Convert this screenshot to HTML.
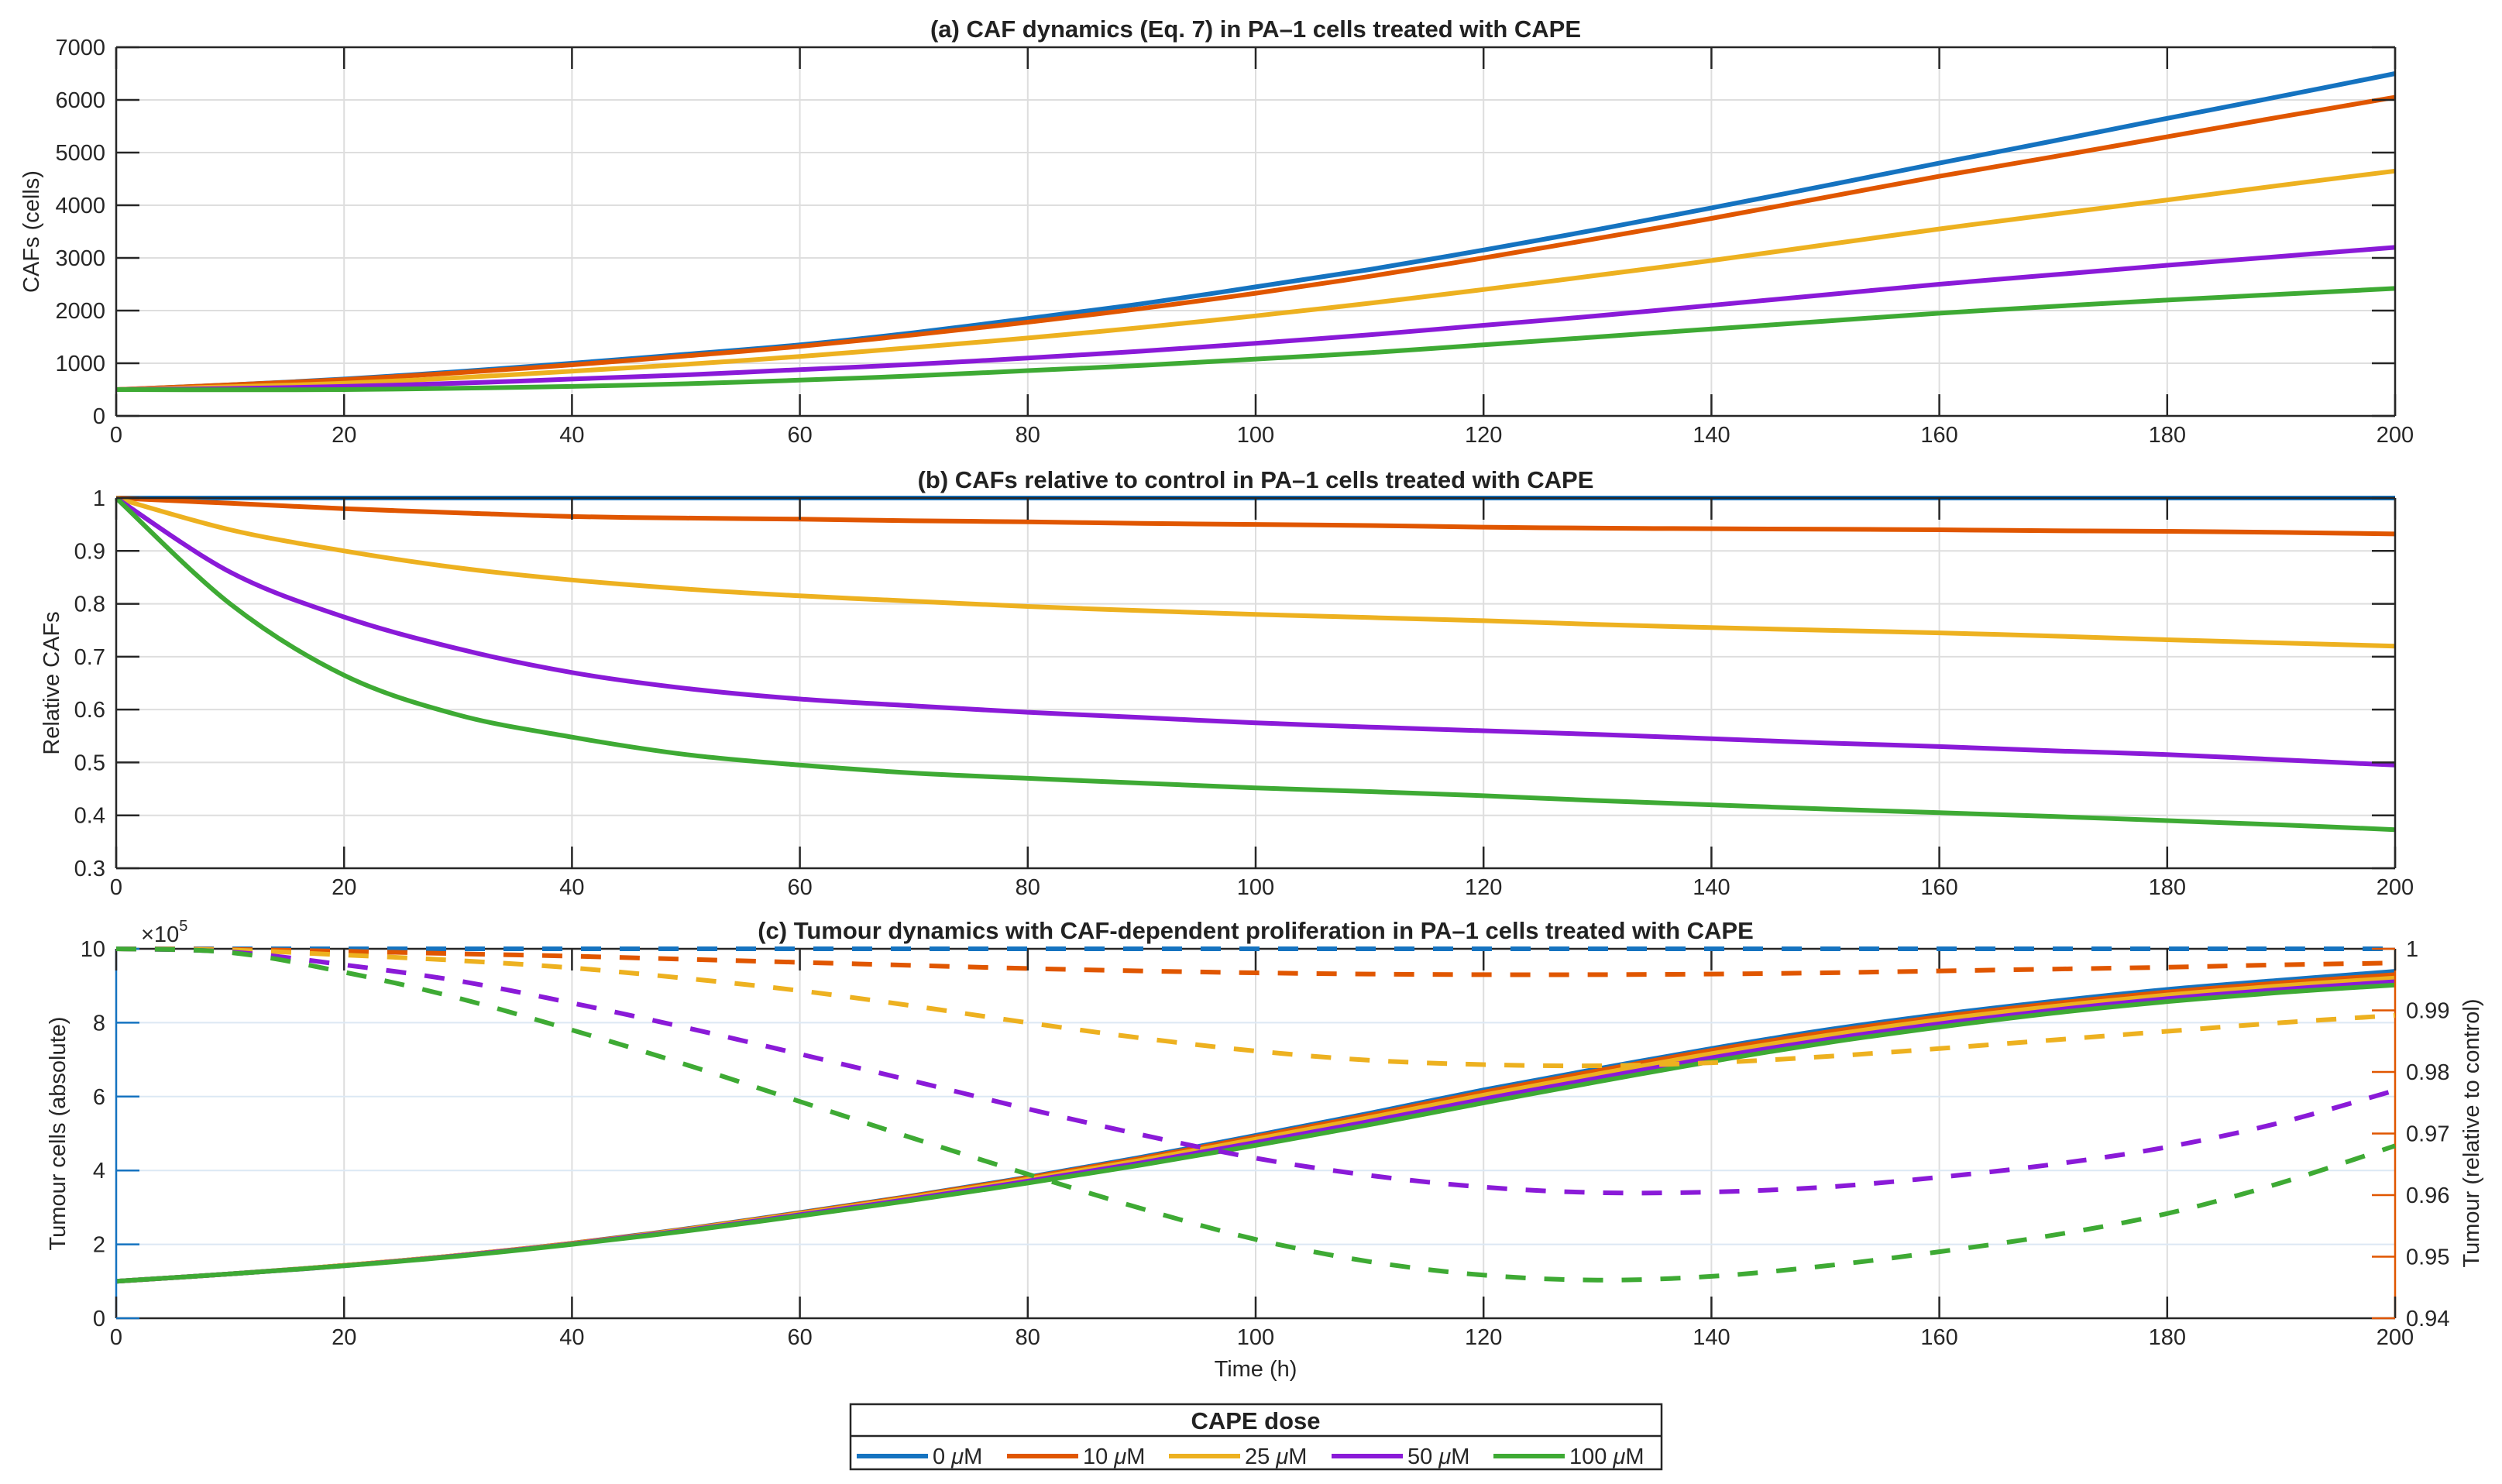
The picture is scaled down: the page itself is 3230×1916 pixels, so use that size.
<!DOCTYPE html>
<html><head><meta charset="utf-8"><style>
html,body{margin:0;padding:0;background:#fff;}
svg{display:block;font-family:"Liberation Sans",Arial,sans-serif;}
.tk{font-size:29px;fill:#262626;}
.tt{font-family:"Liberation Sans Narrow","Liberation Sans",sans-serif;font-weight:bold;font-size:31px;fill:#222;}
</style></head><body>
<svg id="fig" width="3230" height="1916" viewBox="0 0 3230 1916" xmlns="http://www.w3.org/2000/svg"></svg>
<script>
// ---- data ----
const tVals = [0,10,20,30,40,50,60,70,80,90,100,110,120,130,140,150,160,170,180,190,200];
const doseLabels = ["0 μM","10 μM","25 μM","50 μM","100 μM"];
const colors = ["#1573C0","#E05600","#EDB120","#8A1AD8","#3EAA34"];
// (a) CAFs absolute
const cafA0 = [500,590,700,840,1000,1170,1350,1580,1850,2130,2450,2780,3150,3540,3950,4370,4800,5220,5650,6070,6500];
const cafA10 = [500,590,690,820,970,1140,1320,1540,1780,2040,2330,2650,3000,3370,3750,4150,4550,4920,5300,5680,6050];
const cafA25 = [500,555,620,725,850,980,1130,1300,1480,1680,1900,2140,2400,2670,2950,3250,3550,3830,4100,4380,4650];
const cafA50 = [500,520,560,620,700,780,880,980,1100,1230,1380,1540,1720,1900,2100,2300,2500,2680,2860,3030,3200];
const cafA100 = [500,495,500,525,560,610,680,760,860,960,1080,1200,1350,1500,1650,1800,1950,2080,2200,2310,2420];
// (b) relative CAFs
const relB0 = [1,1,1,1,1,1,1,1,1,1,1,1,1,1,1,1,1,1,1,1,1];
const relB10 = [1,.99,.98,.972,.965,.962,.96,.957,.955,.952,.95,.948,.945,.943,.942,.941,.94,.938,.937,.935,.932];
const relB25 = [1,.94,.90,.868,.845,.828,.815,.805,.795,.787,.78,.774,.768,.761,.755,.75,.745,.739,.732,.726,.72];
const relB50 = [1,.86,.775,.715,.67,.64,.62,.607,.595,.585,.575,.567,.56,.553,.545,.537,.53,.522,.515,.505,.495];
const relB100 = [1,.80,.665,.59,.548,.515,.495,.48,.47,.461,.452,.445,.437,.428,.42,.412,.405,.398,.39,.382,.373];
// (c) tumour absolute (x1e5)
const tumC0 = [1.0,1.2,1.43,1.7,2.03,2.42,2.86,3.32,3.82,4.36,4.95,5.55,6.18,6.75,7.3,7.8,8.22,8.58,8.9,9.15,9.39];
const tumC10 = [1.0,1.2,1.43,1.7,2.03,2.41,2.85,3.31,3.8,4.33,4.91,5.5,6.12,6.7,7.25,7.74,8.16,8.52,8.83,9.08,9.3];
const tumC25 = [1.0,1.2,1.43,1.7,2.02,2.4,2.83,3.28,3.76,4.28,4.85,5.43,6.04,6.61,7.16,7.65,8.08,8.44,8.75,9.0,9.21];
const tumC50 = [1.0,1.2,1.42,1.69,2.01,2.38,2.8,3.24,3.71,4.21,4.76,5.33,5.93,6.5,7.05,7.54,7.97,8.34,8.65,8.9,9.11];
const tumC100 = [1.0,1.2,1.42,1.68,2.0,2.36,2.77,3.2,3.66,4.15,4.68,5.24,5.83,6.4,6.95,7.45,7.88,8.26,8.57,8.82,9.02];
// (c) tumour relative to control
const tumR0 = [1,1,1,1,1,1,1,1,1,1,1,1,1,1,1,1,1,1,1,1,1];
const tumR10 = [1,.9999,.9996,.9992,.9988,.9983,.9978,.9973,.9968,.9964,.9961,.9959,.9958,.9958,.9959,.9961,.9964,.9967,.997,.9974,.9977];
const tumR25 = [1,.9998,.999,.9981,.9969,.9952,.9932,.9907,.988,.9855,.9834,.9819,.9812,.981,.9815,.9825,.9838,.9852,.9866,.988,.9892];
const tumR50 = [1,.9995,.9974,.9948,.9912,.9872,.9829,.9785,.974,.9698,.966,.9632,.9613,.9604,.9605,.9613,.9629,.965,.9678,.9718,.977];
const tumR100 = [1,.9994,.9962,.992,.9868,.9812,.9752,.9692,.9634,.9578,.9528,.9492,.947,.9462,.9468,.9485,.9508,.9535,.957,.962,.968];
const xTicks = [0,20,40,60,80,100,120,140,160,180,200];
const yTicksA = [0,1000,2000,3000,4000,5000,6000,7000];
const yTicksB = [0.3,0.4,0.5,0.6,0.7,0.8,0.9,1];
const yTicksCL = [0,2,4,6,8,10];
const yTicksCR = [0.94,0.95,0.96,0.97,0.98,0.99,1];
const yTicksCRLabels = ["0.94","0.95","0.96","0.97","0.98","0.99","1"];

const NS="http://www.w3.org/2000/svg";
const svg=document.getElementById('fig');
function mk(tag,attrs,parent){const e=document.createElementNS(NS,tag);for(const k in attrs)e.setAttribute(k,attrs[k]);(parent||svg).appendChild(e);return e;}
const X0=150,X1=3092;
const xs=v=>X0+(v-0)/(200-0)*(X1-X0);
function lin(d0,d1,p0,p1){return v=>p0+(v-d0)/(d1-d0)*(p1-p0);}
function smoothPath(px,py){
  const n=px.length;let d=`M${px[0].toFixed(1)},${py[0].toFixed(1)}`;
  for(let i=0;i<n-1;i++){
    const p0x=px[Math.max(i-1,0)],p0y=py[Math.max(i-1,0)];
    const p3x=px[Math.min(i+2,n-1)],p3y=py[Math.min(i+2,n-1)];
    const c1x=px[i]+(px[i+1]-p0x)/6,c1y=py[i]+(py[i+1]-p0y)/6;
    const c2x=px[i+1]-(p3x-px[i])/6,c2y=py[i+1]-(p3y-py[i])/6;
    d+=` C${c1x.toFixed(1)},${c1y.toFixed(1)} ${c2x.toFixed(1)},${c2y.toFixed(1)} ${px[i+1].toFixed(1)},${py[i+1].toFixed(1)}`;
  }
  return d;
}
function text(x,y,s,cls,extra,name){const t=mk('text',Object.assign({x:x,y:y,class:cls},extra||{}));t.textContent=s;
  
  
  return t;}

function panel(opt){
  const g=mk('g',{});
  
  
  const ys=lin(opt.y0,opt.y1,opt.Y1,opt.Y0);
  xTicks.forEach(v=>{const l=mk('line',{x1:xs(v),x2:xs(v),y1:opt.Y0,y2:opt.Y1,stroke:'#dedede','stroke-width':2},g);
    
    });
  opt.yTicks.forEach(v=>{const l=mk('line',{x1:X0,x2:X1,y1:ys(v),y2:ys(v),stroke:opt.gridColor||'#dedede','stroke-width':2},g);
    
    });
  opt.series.forEach((s,i)=>{
    const p=mk('path',{d:smoothPath(tVals.map(xs),s.data.map(ys)),fill:'none',stroke:colors[i],'stroke-width':6,'stroke-linejoin':'round'},g);
    
    
  });
  const lc=opt.leftColor||'#262626';
  mk('line',{x1:X0,x2:X1,y1:opt.Y0,y2:opt.Y0,stroke:'#262626','stroke-width':2.5},g);
  mk('line',{x1:X0,x2:X1,y1:opt.Y1,y2:opt.Y1,stroke:'#262626','stroke-width':2.5},g);
  mk('line',{x1:X0,x2:X0,y1:opt.Y0,y2:opt.Y1,stroke:lc,'stroke-width':2.5},g);
  mk('line',{x1:X1,x2:X1,y1:opt.Y0,y2:opt.Y1,stroke:opt.rightColor||'#262626','stroke-width':2.5},g);
  xTicks.forEach(v=>{
    mk('line',{x1:xs(v),x2:xs(v),y1:opt.Y1,y2:opt.Y1-28,stroke:'#262626','stroke-width':2.5},g);
    mk('line',{x1:xs(v),x2:xs(v),y1:opt.Y0,y2:opt.Y0+28,stroke:'#262626','stroke-width':2.5},g);
    text(xs(v),opt.Y1+34,String(v),'tk',{'text-anchor':'middle'},'x-tick-label');
  });
  opt.yTicks.forEach((v,i)=>{
    mk('line',{x1:X0,x2:X0+30,y1:ys(v),y2:ys(v),stroke:lc,'stroke-width':2.5},g);
    if(!opt.noRightTicks) mk('line',{x1:X1,x2:X1-30,y1:ys(v),y2:ys(v),stroke:'#262626','stroke-width':2.5},g);
    text(X0-14,ys(v)+10,String(v),'tk',{'text-anchor':'end',fill:lc},'y-tick-label');
  });
  text(1621,opt.titleY,opt.title,'tt',{'text-anchor':'middle'},'panel-title');
  text(0,0,opt.ylabel,'tk',{'text-anchor':'middle',fill:lc,transform:`translate(${opt.ylabelX},${(opt.Y0+opt.Y1)/2}) rotate(-90)`,'font-size':31},'y-axis-title');
  return g;
}

panel({name:'panel-a-caf-dynamics',Y0:61,Y1:537,y0:0,y1:7000,yTicks:yTicksA,titleY:48,
  title:'(a) CAF dynamics (Eq. 7)  in PA–1 cells treated with CAPE',ylabel:'CAFs (cells)',ylabelX:50,
  series:[{data:cafA0,name:'caf-0uM-line'},{data:cafA10,name:'caf-10uM-line'},{data:cafA25,name:'caf-25uM-line'},{data:cafA50,name:'caf-50uM-line'},{data:cafA100,name:'caf-100uM-line'}]});
panel({name:'panel-b-relative-cafs',Y0:643,Y1:1121,y0:0.3,y1:1,yTicks:yTicksB,titleY:630,
  title:'(b) CAFs relative to control  in PA–1 cells treated with CAPE',ylabel:'Relative CAFs',ylabelX:76,
  series:[{data:relB0,name:'rel-caf-0uM-line'},{data:relB10,name:'rel-caf-10uM-line'},{data:relB25,name:'rel-caf-25uM-line'},{data:relB50,name:'rel-caf-50uM-line'},{data:relB100,name:'rel-caf-100uM-line'}]});

const CY0=1225,CY1=1702;
const ysR=lin(0.94,1,CY1,CY0);
panel({name:'panel-c-tumour-dynamics',Y0:CY0,Y1:CY1,y0:0,y1:10,yTicks:yTicksCL,titleY:1212,gridColor:'#dce8f4',
  leftColor:'#1573C0',rightColor:'#E05600',noRightTicks:true,
  title:'(c) Tumour dynamics with CAF-dependent proliferation in PA–1 cells treated with CAPE',ylabel:'Tumour cells (absolute)',ylabelX:84,
  series:[{data:tumC0,name:'tumour-0uM-line'},{data:tumC10,name:'tumour-10uM-line'},{data:tumC25,name:'tumour-25uM-line'},{data:tumC50,name:'tumour-50uM-line'},{data:tumC100,name:'tumour-100uM-line'}]});
const gR=mk('g',{});


[tumR0,tumR10,tumR25,tumR50,tumR100].forEach((arr,i)=>{
  const p=mk('path',{d:smoothPath(tVals.map(xs),arr.map(ysR)),fill:'none',stroke:colors[i],'stroke-width':6,'stroke-dasharray':'26 24'},gR);
  
  
});
yTicksCR.forEach((v,i)=>{
  mk('line',{x1:X1,x2:X1-30,y1:ysR(v),y2:ysR(v),stroke:'#E05600','stroke-width':2.5});
  text(X1+14,ysR(v)+10,yTicksCRLabels[i],'tk',{fill:'#E05600'},'right-y-tick-label');
});
text(0,0,'Tumour (relative to control)','tk',{'text-anchor':'middle',fill:'#E05600','font-size':31,transform:`translate(3200,1463) rotate(-90)`},'right-y-axis-title');
const ex=text(182,1216,'×10','tk',{fill:'#1573C0','font-size':27},'y-exponent-label');
const sup=mk('tspan',{dy:-14,'font-size':20},ex);sup.textContent='5';
text(1621,1777,'Time (h)','tk',{'text-anchor':'middle','font-size':31},'x-axis-title');

const lg=mk('g',{});


mk('rect',{x:1098,y:1813,width:1047,height:84,fill:'#fff',stroke:'#262626','stroke-width':2.5},lg);
mk('line',{x1:1098,x2:2145,y1:1854,y2:1854,stroke:'#262626','stroke-width':2.5},lg);
text(1621,1845,'CAPE dose','tt',{'text-anchor':'middle','font-size':27},'legend-title');
const legX=[1106,1300,1509,1719,1928];
doseLabels.forEach((lab,i)=>{
  const e=mk('g',{},lg);
  
  
  mk('line',{x1:legX[i],x2:legX[i]+92,y1:1880,y2:1880,stroke:colors[i],'stroke-width':6},e);
  const t=mk('text',{x:legX[i]+98,y:1890,class:'tk','font-size':26,'font-family':'"Liberation Sans Narrow","Liberation Sans",sans-serif'},e);
  const parts=lab.split(' ');
  t.appendChild(document.createTextNode(parts[0]+' '));
  const mu=mk('tspan',{'font-style':'italic'},t);mu.textContent='μ';
  t.appendChild(document.createTextNode('M'));
});
</script>
</body></html>
